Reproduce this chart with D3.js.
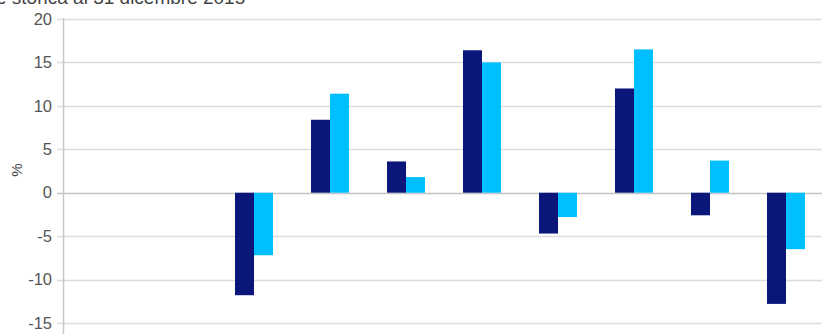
<!DOCTYPE html>
<html>
<head>
<meta charset="utf-8">
<script src="https://cdn.jsdelivr.net/npm/d3@7"></script>
<style>
  body { margin: 0; background: #fff; }
  svg { display: block; font-family: "Liberation Sans", Arial, sans-serif; }
</style>
</head>
<body>
<div id="chart"></div>
<script>
// Categories (no labels shown on the x axis in the original)
const categories = ["c1", "c2", "c3", "c4", "c5", "c6", "c7", "c8", "c9", "c10"];
const seriesNames = ["fondo", "benchmark"];
// Yearly performance (%) - first two periods have no data
const fondoValues = [null, null, -11.8, 8.4, 3.6, 16.4, -4.7, 12.0, -2.6, -12.8];
const benchmarkValues = [null, null, -7.2, 11.4, 1.8, 15.0, -2.8, 16.5, 3.7, -6.5];
const yTicks = [20, 15, 10, 5, 0, -5, -10, -15];
const titleText = "e storica al 31 dicembre 2015";

const colors = { fondo: "#0a167a", benchmark: "#00bfff" };

const W = 822, H = 334;
const svg = d3.select("#chart").append("svg")
    .attr("width", W)
    .attr("height", H);

const x0 = d3.scaleBand()
    .domain(categories)
    .range([64, 824])
    .padding(0);

const x1 = d3.scaleBand()
    .domain(seriesNames)
    .range([0, x0.bandwidth()])
    .paddingInner(0)
    .paddingOuter(1);

const y = d3.scaleLinear()
    .domain([-15, 20])
    .range([323, 19]);

// Title (cut off at the top of the picture, as in the original)
svg.append("text")
    .attr("x", -4)
    .attr("y", 4)
    .attr("fill", "#444")
    .attr("font-size", 19)
    .text(titleText);

// Gridlines
svg.append("g")
    .selectAll("line")
    .data(yTicks)
    .enter()
    .append("line")
    .attr("x1", 57)
    .attr("x2", W)
    .attr("y1", d => Math.round(y(d)) + 0.5)
    .attr("y2", d => Math.round(y(d)) + 0.5)
    .attr("stroke", d => d === 0 ? "#c4c4c4" : "#dcdcdc")
    .attr("stroke-width", 1.5);

// Y axis
const yAxis = svg.append("g")
    .attr("transform", "translate(63,0)")
    .call(d3.axisLeft(y).tickValues(yTicks).tickSize(0).tickPadding(11)
        .tickFormat(d => String(d)));
yAxis.select(".domain").remove();
yAxis.selectAll("text")
    .attr("fill", "#555")
    .attr("font-size", 16.5)
    .attr("font-family", "'Liberation Sans', Arial, sans-serif");

svg.append("line")
    .attr("x1", 63.5).attr("x2", 63.5)
    .attr("y1", 18).attr("y2", H)
    .attr("stroke", "#c8c8c8")
    .attr("stroke-width", 1.5);

// Y axis title
svg.append("text")
    .attr("transform", "translate(22,170) rotate(-90)")
    .attr("text-anchor", "middle")
    .attr("fill", "#444")
    .attr("font-size", 15)
    .text("%");

// Bars
const rows = categories.map((c, i) => ({
    cat: c,
    values: [
        { key: "fondo", value: fondoValues[i] },
        { key: "benchmark", value: benchmarkValues[i] }
    ]
}));

svg.append("g")
    .selectAll("g")
    .data(rows)
    .enter()
    .append("g")
    .attr("transform", d => `translate(${x0(d.cat)},0)`)
    .selectAll("rect")
    .data(d => d.values.filter(v => v.value !== null))
    .enter()
    .append("rect")
    .attr("x", d => x1(d.key))
    .attr("width", x1.bandwidth())
    .attr("y", d => y(Math.max(0, d.value)))
    .attr("height", d => Math.abs(y(d.value) - y(0)))
    .attr("fill", d => colors[d.key]);
</script>
</body>
</html>
